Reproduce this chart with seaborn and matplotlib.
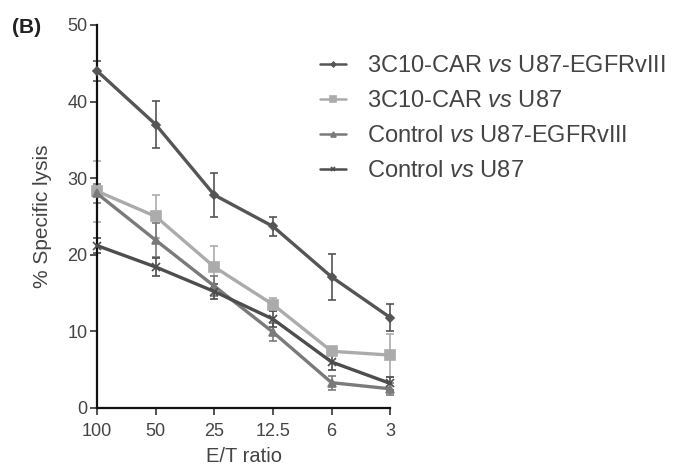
import numpy as np
import pandas as pd
import seaborn as sns
from matplotlib import pyplot as plt

# E/T ratios on the x axis
ratios = ['100', '50', '25', '12.5', '6', '3']

car_egfr = [44.0, 37.0, 27.8, 23.7, 17.1, 11.8]
car_egfr_err = [1.3, 3.1, 2.9, 1.2, 3.0, 1.8]
car_u87 = [28.3, 25.0, 18.4, 13.5, 7.4, 6.9]
car_u87_err = [4.0, 2.8, 2.8, 0.9, 0.5, 2.8]
ctrl_egfr = [28.0, 21.9, 15.9, 9.9, 3.3, 2.5]
ctrl_egfr_err = [1.2, 2.2, 1.3, 1.2, 0.9, 0.8]
ctrl_u87 = [21.2, 18.4, 15.2, 11.6, 6.0, 3.2]
ctrl_u87_err = [1.0, 1.2, 1.0, 1.0, 1.0, 0.9]

series = [
    ('3C10-CAR $\\it{vs}$ U87-EGFRvIII', car_egfr, car_egfr_err, '#555555', 'D', 4),
    ('3C10-CAR $\\it{vs}$ U87', car_u87, car_u87_err, '#ababab', 's', 7),
    ('Control $\\it{vs}$ U87-EGFRvIII', ctrl_egfr, ctrl_egfr_err, '#7a7a7a', '^', 6),
    ('Control $\\it{vs}$ U87', ctrl_u87, ctrl_u87_err, '#4d4d4d', 'x', 6),
]

sns.set_style('ticks')
plt.rcParams['font.family'] = ['Liberation Sans', 'DejaVu Sans']
plt.rcParams['mathtext.fontset'] = 'custom'
plt.rcParams['mathtext.it'] = 'Liberation Sans:italic'
plt.rcParams['mathtext.rm'] = 'Liberation Sans'

fig = plt.figure(figsize=(6.74, 4.70), dpi=100)
ax = fig.add_axes([0.144, 0.132, 0.435, 0.815])

pos = np.arange(len(ratios))
for label, vals, errs, color, marker, ms in series:
    df = pd.DataFrame({'x': pos, 'y': vals})
    sns.lineplot(data=df, x='x', y='y', ax=ax, color=color, lw=2.4,
                 marker=marker, markersize=ms, markeredgecolor=color,
                 markeredgewidth=1.2, label=label, clip_on=False, zorder=3)
    ax.errorbar(pos, vals, yerr=errs, fmt='none', ecolor=color, elinewidth=1.2,
                capsize=3, capthick=1.2, clip_on=False, zorder=2)

ax.set_xlim(0, 5)
ax.set_ylim(0, 50)
ax.set_xticks(pos)
ax.set_xticklabels(ratios)
ax.set_yticks([0, 10, 20, 30, 40, 50])
ax.tick_params(labelsize=13, colors='#444444', length=5, width=1.3, pad=2)
ax.tick_params(axis='x', pad=6)
for s in ('left', 'bottom'):
    ax.spines[s].set_linewidth(1.6)
    ax.spines[s].set_color('#111111')
sns.despine(ax=ax)

ax.set_xlabel('E/T ratio', fontsize=14.5, color='#444444', labelpad=5)
ax.set_ylabel('% Specific lysis', fontsize=15, color='#444444', labelpad=11)

leg = ax.legend(loc='upper left', bbox_to_anchor=(0.475, 0.882),
                bbox_transform=fig.transFigure, frameon=False, borderpad=0,
                borderaxespad=0, fontsize=17, handlelength=1.1,
                handletextpad=0.9, labelspacing=0.55, markerscale=0.6,
                labelcolor='#444444')
for h in leg.legend_handles:
    h.set_linewidth(1.8)

fig.text(0.018, 0.93, '(B)', fontsize=15, fontweight='bold', color='#222222')

fig.savefig('out.png', dpi=100)
